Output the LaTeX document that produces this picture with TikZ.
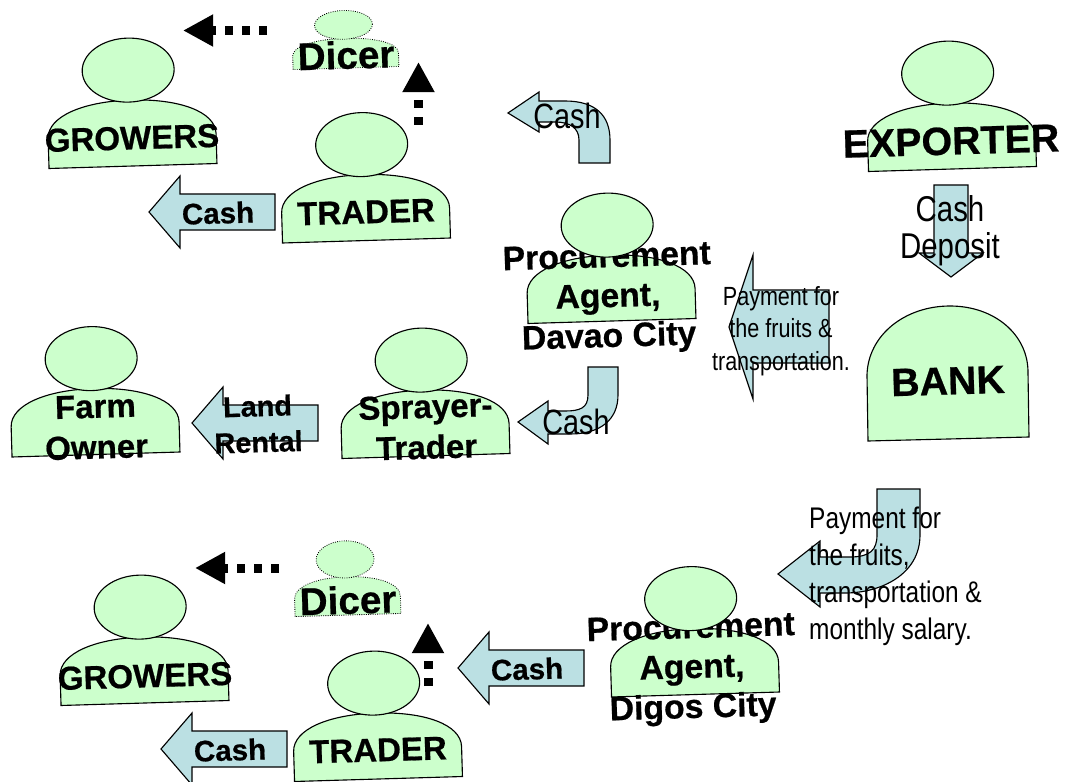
\documentclass[tikz,border=0pt]{standalone}
\usepackage{fontspec}
\setmainfont{Liberation Sans}[BoldFeatures={FakeBold=0.6}]
\usetikzlibrary{arrows.meta}
\definecolor{persongreen}{HTML}{CCFFCC}
\definecolor{arrowblue}{HTML}{BBE0E3}
\tikzset{
	every picture/.style={x=0.025cm, y=-0.025cm},
	outline/.style={draw=black, line width=0.8pt, fill=persongreen},
	dotline/.style={draw=black, line width=0.6pt, densely dotted, fill=persongreen},
	blockarrow/.style={draw=black, line width=0.8pt, fill=arrowblue},
	dotarrow/.style={line width=6.4pt, dash pattern=on 5.9pt off 6.2pt, -{Triangle[length=21.5pt, width=21.5pt]}},
	boldlabel/.style 2 args={font=\fontsize{#1}{#2}\selectfont\bfseries, align=center, rotate=1.7, inner sep=0pt},
	plainlabel/.style 2 args={font=\fontsize{#1}{#2}\selectfont, align=center, xscale=0.82, transform shape, inner sep=0pt}
}
% body, then text, then head: the head hides part of a long label
\def\person[#1](#2)[#3]#4{
	\begin{scope}[shift={(#2)}, rotate=1.7, #3]
		\draw[#1] (-84, 0) -- (-84, -30) .. controls (-84, -52) and (-48, -66) .. (0, -66) .. controls (48, -66) and (84, -52) .. (84, -30) -- (84, 0) -- cycle;
	\end{scope}
	#4
	\begin{scope}[shift={(#2)}, rotate=1.7, #3]
		\draw[#1] (-2, -96) ellipse (46 and 32);
	\end{scope}
}
% straight arrow pointing left, given by its tip
\def\leftarrowbox(#1){\draw[blockarrow, shift={(#1)}] (0, 0) -- (31, -36) -- (31, -18) -- (126, -18) -- (126, 18) -- (31, 18) -- (31, 36) -- cycle;}
\begin{document}
\begin{tikzpicture}
	\useasboundingbox (0, 0) rectangle (1068, 782);

	% top group
	\person[outline](133, 166)[]{\node[boldlabel={23.5}{28}] (growersTop) at (132, 138) {GROWERS};}
	\person[outline](366.5, 240.5)[]{\node[boldlabel={23.5}{28}] (traderTop) at (366, 212) {TRADER};}
	\person[dotline](346, 68)[xscale=0.63, yscale=0.45]{\node[boldlabel={27.5}{32}] (dicerTop) at (346, 55) {Dicer};}
	\person[outline](96, 454.5)[]{\node[boldlabel={23.5}{29}] (farmOwner) at (96, 427) {Farm\\Owner};}
	\person[outline](426, 456)[]{\node[boldlabel={23.5}{29}] (sprayerTrader) at (426, 427) {Sprayer-\\Trader};}
	\person[outline](612, 321)[]{\node[boldlabel={24}{28.4}] (agentDavao) at (608, 299) {Procurement\\Agent,\\Davao City};}
	\person[outline](952.5, 169)[]{\node[boldlabel={28}{32}] (exporter) at (951, 141) {EXPORTER};}

	% bank has no head
	\draw[outline] (868, 441) -- (867, 375) .. controls (868, 335) and (905, 306) .. (950, 306) .. controls (995, 306) and (1028, 335) .. (1028, 372) -- (1029, 437) -- cycle;
	\node[boldlabel={28}{32}] (bank) at (948, 381) {BANK};

	% bottom group
	\person[outline](145, 703)[]{\node[boldlabel={23.5}{28}] (growersBottom) at (145, 676) {GROWERS};}
	\person[outline](378.5, 779)[]{\node[boldlabel={23.5}{28}] (traderBottom) at (378, 750) {TRADER};}
	\person[dotline](348, 615)[xscale=0.63, yscale=0.58]{\node[boldlabel={27.5}{32}] (dicerBottom) at (348, 600) {Dicer};}
	\person[outline](695.5, 694.5)[]{\node[boldlabel={24}{28.4}] (agentDigos) at (692, 670) {Procurement\\Agent,\\Digos City};}

	% block arrows
	\leftarrowbox(149, 212);
	\leftarrowbox(192, 423);
	\leftarrowbox(458, 668);
	\leftarrowbox(161, 749);
	\draw[blockarrow] (729, 327) -- (753, 255) -- (753, 290) -- (829, 290) -- (829, 363) -- (753, 363) -- (753, 399) -- cycle;
	\draw[blockarrow] (951, 277) -- (919, 253) -- (934, 253) -- (934, 185) -- (968, 185) -- (968, 253) -- (983, 253) -- cycle;
	\draw[blockarrow] (508, 113) -- (539, 92) -- (539, 101) -- (565, 101) .. controls (595, 101) and (610, 115) .. (610, 140) -- (610, 163) -- (579, 163) -- (579, 140) .. controls (579, 128) and (570, 122) .. (555, 122) -- (539, 122) -- (539, 132) -- cycle;
	\draw[blockarrow] (518, 422) -- (548, 401) -- (548, 411) -- (565, 411) .. controls (580, 411) and (588, 408) .. (588, 395) -- (588, 367) -- (618, 367) -- (618, 395) .. controls (618, 420) and (600, 434) .. (570, 434) -- (548, 434) -- (548, 444) -- cycle;
	\draw[blockarrow] (778, 574) -- (820, 541) -- (820, 557) -- (850, 557) .. controls (870, 557) and (877, 550) .. (877, 535) -- (877, 489) -- (920, 489) -- (920, 535) .. controls (920, 575) and (880, 593) .. (845, 593) -- (820, 593) -- (820, 607) -- cycle;

	% arrow labels
	\node[boldlabel={21}{25}] (cashA) at (218, 213) {Cash};
	\node[boldlabel={21}{25}] (cashB) at (527, 669) {Cash};
	\node[boldlabel={21}{25}] (cashC) at (230, 750) {Cash};
	\node[boldlabel={20.5}{25.6}] (landRental) at (258, 424) {Land\\Rental};
	\node[plainlabel={25}{26.3}] (cashD) at (567, 116) {Cash};
	\node[plainlabel={25}{26.3}] (cashE) at (576, 422) {Cash};
	\node[plainlabel={25.5}{26.3}] (cashDeposit) at (950, 231) {Cash\\Deposit};
	\node[plainlabel={18.7}{23.3}] (paymentDavao) at (781, 331) {Payment for\\the fruits \&\\transportation.};
	\node[plainlabel={21.2}{26.3}, align=left, anchor=west] (paymentDigos) at (809, 576) {Payment for\\the fruits,\\transportation \&\\monthly salary.};

	% dotted arrows
	\coordinate (dicerTopOut) at (267, 30.5);
	\coordinate (growersTopIn) at (183, 30.5);
	\coordinate (traderTopOut) at (418.5, 125);
	\coordinate (dicerTopIn) at (418.5, 62);
	\coordinate (dicerBottomOut) at (279, 568);
	\coordinate (growersBottomIn) at (195, 568);
	\coordinate (traderBottomOut) at (428, 686);
	\coordinate (dicerBottomIn) at (428, 623);
	\draw[dotarrow] (dicerTopOut) -- (growersTopIn);
	\draw[dotarrow] (traderTopOut) -- (dicerTopIn);
	\draw[dotarrow] (dicerBottomOut) -- (growersBottomIn);
	\draw[dotarrow] (traderBottomOut) -- (dicerBottomIn);
\end{tikzpicture}
\end{document}
